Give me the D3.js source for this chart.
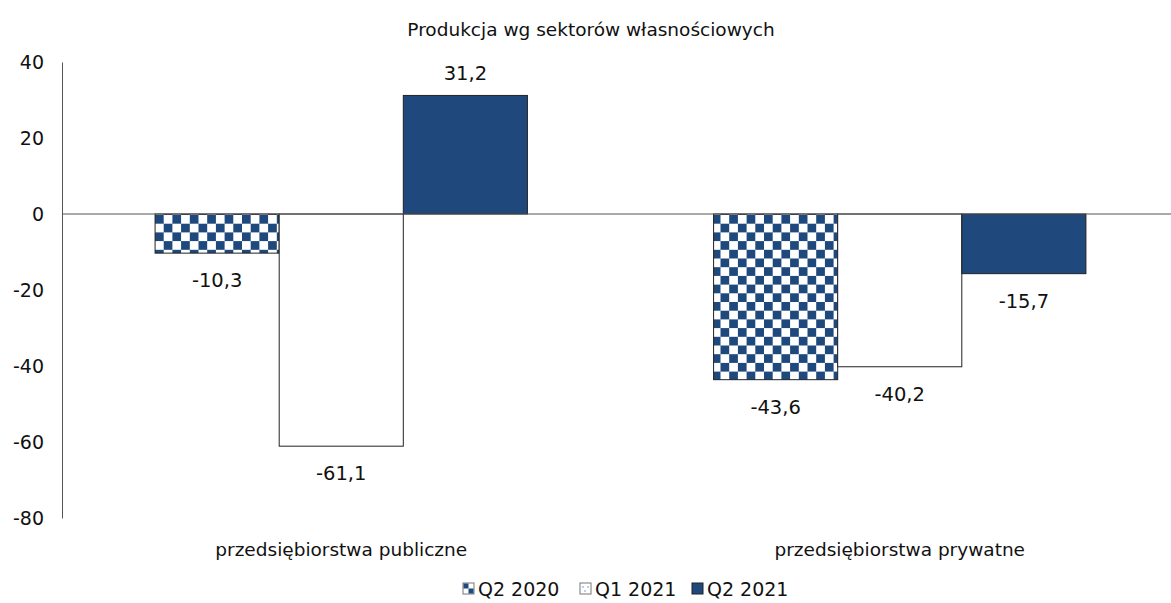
<!DOCTYPE html>
<html>
<head>
<meta charset="utf-8">
<script src="https://cdn.jsdelivr.net/npm/d3@7"></script>
<style>
  body { margin: 0; background: #fff; }
  svg text { font-family: 'DejaVu Sans', sans-serif; fill: #111; }
</style>
</head>
<body>
<div class="chart"></div>
<script>
var categories = ['przedsiębiorstwa publiczne', 'przedsiębiorstwa prywatne'];
var seriesNames = ['Q2 2020', 'Q1 2021', 'Q2 2021'];
var q2_2020 = [-10.3, -43.6];
var q1_2021 = [-61.1, -40.2];
var q2_2021 = [31.2, -15.7];
var yTicks = [40, 20, 0, -20, -40, -60, -80];

var seriesValues = [q2_2020, q1_2021, q2_2021];
var width = 1171, height = 603;
var mLeft = 62, mRight = 1179, mTop = 62, mBottom = 518;

var svg = d3.select('.chart')
  .append('svg')
  .attr('width', width)
  .attr('height', height);

// checker pattern for Q2 2020
var defs = svg.append('defs');
var checker = defs.append('pattern')
  .attr('id', 'checker')
  .attr('patternUnits', 'userSpaceOnUse')
  .attr('width', 17.4).attr('height', 17.4)
  .attr('x', 155).attr('y', 215);
checker.append('rect').attr('width', 17.4).attr('height', 17.4).attr('fill', '#fff');
checker.append('rect').attr('width', 8.7).attr('height', 8.7).attr('fill', '#1f497d');
checker.append('rect').attr('x', 8.7).attr('y', 8.7).attr('width', 8.7).attr('height', 8.7).attr('fill', '#1f497d');

var fills = ['url(#checker)', '#fff', '#1f497d'];

var y = d3.scaleLinear().domain([-80, 40]).range([mBottom, mTop]);

var x0 = d3.scaleBand()
  .domain(categories)
  .range([mLeft, mRight])
  .paddingInner(1 / 3)
  .paddingOuter(1 / 6);

var x1 = d3.scaleBand()
  .domain(seriesNames)
  .range([0, x0.bandwidth()]);

// title
svg.append('text')
  .attr('x', 591).attr('y', 36)
  .attr('text-anchor', 'middle')
  .style('font-size', '18.5px')
  .text('Produkcja wg sektorów własnościowych');

// y axis
var yAxis = d3.axisLeft(y).tickValues(yTicks).tickSize(0).tickPadding(18)
  .tickFormat(function(d) { return d; });
var ga = svg.append('g').attr('transform', 'translate(' + mLeft + ',0)').call(yAxis);
ga.select('.domain').attr('stroke', '#555');
ga.selectAll('text').style('font-size', '19px')
  .style('font-family', "'DejaVu Sans', sans-serif").attr('fill', '#111');

var rows = [];
categories.forEach(function(c, ci) {
  seriesNames.forEach(function(s, si) {
    rows.push({ cat: c, name: s, si: si, v: seriesValues[si][ci] });
  });
});

// bars
svg.selectAll('.bar')
  .data(rows)
  .enter().append('rect')
  .attr('class', 'bar')
  .attr('x', function(d) { return x0(d.cat) + x1(d.name); })
  .attr('width', x1.bandwidth())
  .attr('y', function(d) { return y(Math.max(0, d.v)); })
  .attr('height', function(d) { return Math.abs(y(d.v) - y(0)); })
  .attr('fill', function(d) { return fills[d.si]; })
  .attr('stroke', '#222')
  .attr('stroke-width', 1);

// zero line
svg.append('line')
  .attr('x1', mLeft).attr('x2', width)
  .attr('y1', y(0)).attr('y2', y(0))
  .attr('stroke', '#555').attr('stroke-width', 1);

// value labels
svg.selectAll('.val')
  .data(rows)
  .enter().append('text')
  .attr('class', 'val')
  .attr('x', function(d) { return x0(d.cat) + x1(d.name) + x1.bandwidth() / 2; })
  .attr('y', function(d) { return d.v >= 0 ? y(d.v) - 15 : y(d.v) + 34; })
  .attr('text-anchor', 'middle')
  .style('font-size', '19.5px')
  .text(function(d) { return String(d.v).replace('.', ','); });

// category labels
svg.selectAll('.cat')
  .data(categories)
  .enter().append('text')
  .attr('class', 'cat')
  .attr('x', function(d) { return x0(d) + x0.bandwidth() / 2; })
  .attr('y', 556)
  .attr('text-anchor', 'middle')
  .style('font-size', '18.5px')
  .text(function(d) { return d; });

// legend
var legendX = [463, 580, 692];
var leg = svg.selectAll('.legend')
  .data(seriesNames)
  .enter().append('g')
  .attr('class', 'legend')
  .attr('transform', function(d, i) { return 'translate(' + legendX[i] + ',583)'; });

leg.append('rect')
  .attr('width', 11).attr('height', 11)
  .attr('fill', function(d, i) { return i === 2 ? '#1f497d' : '#fff'; })
  .attr('stroke', function(d, i) { return i === 2 ? '#222' : '#777'; });
leg.filter(function(d, i) { return i === 0; }).append('rect')
  .attr('x', 0.5).attr('y', 0.5).attr('width', 5).attr('height', 5).attr('fill', '#1f497d');
leg.filter(function(d, i) { return i === 0; }).append('rect')
  .attr('x', 5.5).attr('y', 5.5).attr('width', 5).attr('height', 5).attr('fill', '#1f497d');
leg.filter(function(d, i) { return i === 1; }).selectAll('circle')
  .data([[3, 4], [8, 4], [5, 8]])
  .enter().append('circle')
  .attr('cx', function(p) { return p[0]; }).attr('cy', function(p) { return p[1]; })
  .attr('r', 0.8).attr('fill', '#6a8fc8');

leg.append('text')
  .attr('x', 15).attr('y', 13)
  .style('font-size', '19px')
  .text(function(d) { return d; });
</script>
</body>
</html>
